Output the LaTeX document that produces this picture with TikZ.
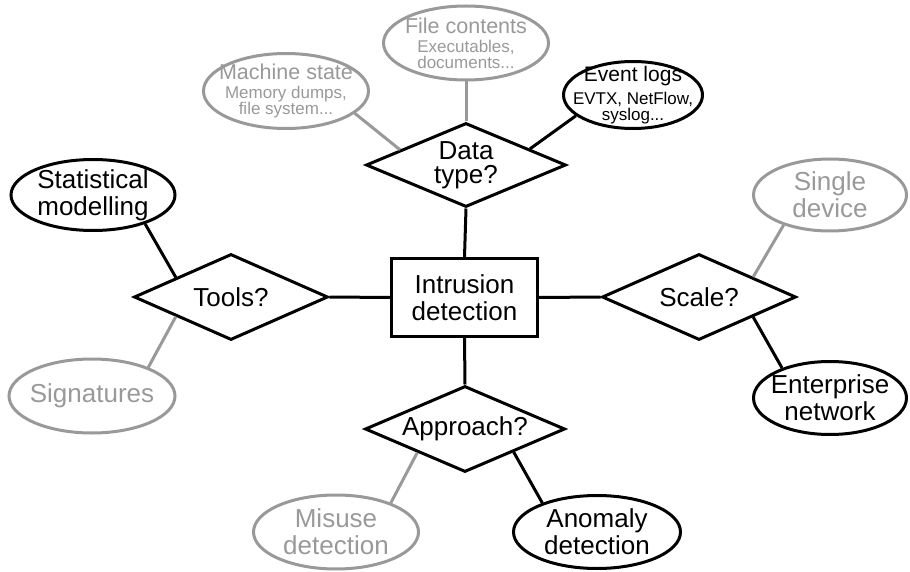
\documentclass[tikz,border=0pt]{standalone}
\usepackage{fontspec}
\setmainfont{Liberation Sans}
\usetikzlibrary{shapes.geometric,calc}
\definecolor{lg}{HTML}{999999}
\begin{document}
\begin{tikzpicture}[x=1pt,y=-1pt,
  ell/.style={ellipse, draw, line width=3pt, inner sep=0pt},
  dia/.style={diamond, draw, line width=3pt, inner sep=0pt, align=center, font={\fontsize{26}{24}\selectfont}},
  blk/.style={draw=black},
  gry/.style={draw=lg},
  lblk/.style={align=center, text=black, font={\fontsize{26}{27}\selectfont}},
  lgry/.style={align=center, text=lg, font={\fontsize{26}{27}\selectfont}},
  smallk/.style={align=center, text=black, font={\fontsize{17}{16}\selectfont}},
  smallg/.style={align=center, text=lg, font={\fontsize{17}{16}\selectfont}},
  conk/.style={draw=black, line width=3pt},
  cong/.style={draw=lg, line width=3pt},
]
\useasboundingbox (0,0) rectangle (910,572);

% central box
\node[draw, line width=3pt, minimum width=146pt, minimum height=78pt, inner sep=0pt,
      align=center, font={\fontsize{26}{27}\selectfont}] (id) at (464.5,297.5) {Intrusion\\detection};

% diamonds
\node[dia, aspect=2.4, minimum width=200pt, minimum height=84pt] (dt) at (466,165) {Data\\type?};
\node[dia, aspect=2.2, minimum width=194pt, minimum height=86pt] (tools) at (231,297) {Tools?};
\node[dia, aspect=2.2, minimum width=194pt, minimum height=86pt] (scale) at (699,297) {Scale?};
\node[dia, aspect=2.3, minimum width=200pt, minimum height=86pt] (appr) at (465,429) {Approach?};

% ellipses around data type
\node[ell, gry, minimum width=165pt, minimum height=74pt,
  label={[smallg]center:\fontsize{21.5}{21}\selectfont File contents\\[3pt]\fontsize{17}{16}\selectfont Executables,\\documents...}] (fc) at (466,43) {};
\node[ell, gry, minimum width=165pt, minimum height=75pt,
  label={[smallg]center:\fontsize{21.5}{21}\selectfont Machine state\\[3pt]\fontsize{17}{16}\selectfont Memory dumps,\\file system...}] (ms) at (286,91) {};
\node[ell, blk, minimum width=139pt, minimum height=67pt,
  label={[smallk]center:\fontsize{21}{21}\selectfont Event logs\\[6pt]\fontsize{17}{16}\selectfont EVTX, NetFlow,\\syslog...}] (el) at (633,95) {};

% tools
\node[ell, blk, minimum width=164pt, minimum height=71pt,
  label={[lblk]center:Statistical\\modelling}] (sm) at (93,195) {};
\node[ell, gry, minimum width=166pt, minimum height=74pt,
  label={[lgry]center:Signatures}] (sig) at (92,396) {};

% scale
\node[ell, gry, minimum width=153pt, minimum height=72pt,
  label={[lgry]center:Single\\device}] (sd) at (830,195) {};
\node[ell, blk, minimum width=153pt, minimum height=73pt,
  label={[lblk]center:Enterprise\\network}] (en) at (830,398) {};

% approach
\node[ell, gry, minimum width=165pt, minimum height=74pt,
  label={[lgry]center:Misuse\\detection}] (mis) at (336,532) {};
\node[ell, blk, minimum width=167pt, minimum height=73pt,
  label={[lblk]center:Anomaly\\detection}] (an) at (597,532) {};

% connectors
\draw[cong] (fc.south) -- (dt.north);
\draw[cong] (ms.-18) -- ($(dt.west)!0.35!(dt.north)$);
\draw[conk] (el.-160) -- ($(dt.north)!0.63!(dt.east)$);
\draw[conk] (dt.south) -- (id.north);

\draw[conk] (sm.-29) -- ($(tools.west)!0.44!(tools.north)$);
\draw[cong] (sig.27) -- ($(tools.west)!0.44!(tools.south)$);
\draw[conk] (tools.east) -- (id.west);

\draw[conk] (id.east) -- (scale.west);
\draw[cong] (sd.-147) -- ($(scale.north)!0.55!(scale.east)$);
\draw[conk] (en.148) -- ($(scale.south)!0.55!(scale.east)$);

\draw[conk] (id.south) -- (appr.north);
\draw[cong] (mis.28) -- ($(appr.west)!0.53!(appr.south)$);
\draw[conk] (an.152) -- ($(appr.east)!0.52!(appr.south)$);
\end{tikzpicture}
\end{document}
